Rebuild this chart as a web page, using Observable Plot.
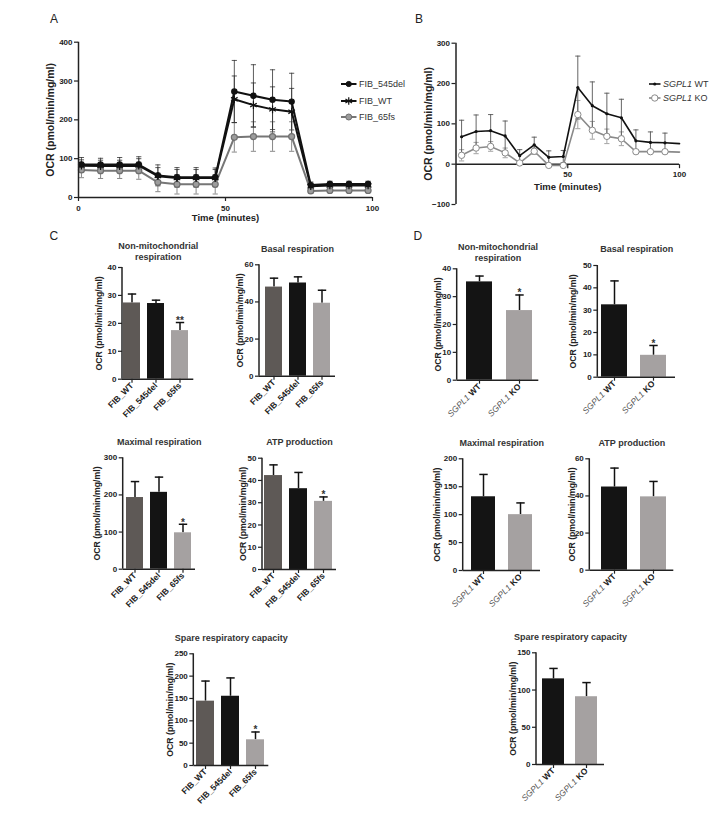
<!DOCTYPE html>
<html><head><meta charset="utf-8">
<script src="https://cdn.jsdelivr.net/npm/d3@7"></script>
<script src="https://cdn.jsdelivr.net/npm/@observablehq/plot@0.6"></script>
<style>
body{margin:0;background:#fff;}
#page{position:relative;width:717px;height:813px;overflow:hidden;font-family:"Liberation Sans",Arial,sans-serif;background:#fff;}
#page svg.layer{position:absolute;left:0;top:0;}
.letter{position:absolute;font-size:12px;line-height:12px;color:#222;}
.leg{position:absolute;display:flex;align-items:center;height:10px;font-size:9px;color:#333;white-space:nowrap;}
</style></head>
<body><div id="page"></div>
<script>
// ---------- DATA ----------
// Panel A (time course, fibroblasts)
const timeA = [1, 7.5, 14, 20.5, 27, 33.5, 40, 46.5, 53, 59.5, 66, 72.5, 79, 85.5, 92, 98.5];
const fib545del = [85, 85, 85, 85, 57, 52, 52, 52, 273, 262, 252, 247, 32, 35, 35, 35];
const fib545delErr = [18, 16, 18, 20, 27, 25, 25, 24, 80, 80, 77, 73, 8, 7, 7, 7];
const fibWT = [82, 81, 81, 82, 55, 50, 50, 50, 253, 238, 227, 221, 29, 31, 31, 31];
const fibWTErr = [15, 15, 15, 18, 22, 22, 22, 22, 60, 57, 58, 60, 8, 8, 8, 8];
const fib65fs = [71, 69, 69, 69, 39, 34, 34, 34, 155, 157, 157, 157, 17, 18, 18, 18];
const fib65fsErr = [20, 20, 20, 22, 24, 25, 25, 25, 38, 38, 38, 38, 5, 5, 5, 5];
const xTicksA = [0, 50, 100];
const yTicksA = [0, 100, 200, 300, 400];

// Panel B (time course, SGPL1)
const timeB = [2.5, 9, 15.5, 22, 28.5, 35, 41.5, 48, 54.5, 61, 67.5, 74, 80.5, 87, 93.5, 100];
const sgplWT = [68, 81, 83, 70, 21, 48, 17, 19, 190, 145, 125, 115, 58, 54, 53, 51];
const sgplWTErr = [41, 41, 40, 37, 15, 19, 16, 15, 78, 59, 51, 46, 27, 26, 24, null];
const sgplKO = [22, 40, 44, 28, 3, 32, -3, -3, 123, 84, 69, 63, 31, 31, 31, 30];
const sgplKOErr = [14, 14, 12, 12, 3, 8, 2, 2, 35, 22, 18, 17, 5, 5, 5, null];
const xTicksB = [50, 100];
const yTicksB = [-100, 0, 100, 200, 300];

// Panel C (fibroblast bar charts)
const catsC = ["FIB_WT", "FIB_545del", "FIB_65fs"];
const colorsC = ["#5e5956", "#141414", "#a5a1a1"];
const nonMitoC = [27.3, 27.1, 17.4], nonMitoCErr = [3.2, 1.2, 2.9], nonMitoCStars = ["", "", "**"];
const basalC = [48, 50.2, 39.3], basalCErr = [4.8, 3.3, 7], basalCStars = ["", "", ""];
const maximalC = [193, 207, 98], maximalCErr = [43, 41, 23], maximalCStars = ["", "", "*"];
const atpC = [42.2, 36.3, 30.6], atpCErr = [4.8, 7.3, 2], atpCStars = ["", "", "*"];
const spareC = [144, 155, 57.5], spareCErr = [45, 41, 17.5], spareCStars = ["", "", "*"];

// Panel D (SGPL1 bar charts)
const catsD = ["SGPL1 WT", "SGPL1 KO"];
const colorsD = ["#141414", "#a5a1a1"];
const nonMitoD = [35.3, 25], nonMitoDErr = [2.1, 5.6], nonMitoDStars = ["", "*"];
const basalD = [32.4, 9.8], basalDErr = [10.7, 4.4], basalDStars = ["", "*"];
const maximalD = [132, 100], maximalDErr = [40, 21], maximalDStars = ["", ""];
const atpD = [44.8, 39.5], atpDErr = [10.2, 8.3], atpDStars = ["", ""];
const spareD = [115, 91], spareDErr = [14, 19], spareDStars = ["", ""];

const yLabel = "OCR (pmol/min/mg/ml)";

// ---------- RENDERING ----------
const W = 717, H = 813;
const page = document.getElementById("page");
const FONT = '"Liberation Sans", Arial, sans-serif';
const INK = "#222";
const baseStyle = {fontFamily: FONT, fontWeight: "bold", fontSize: "8px", color: INK, background: "transparent", overflow: "visible"};

const capSymbol = {draw(ctx, size) { const r = Math.sqrt(size / Math.PI); ctx.moveTo(-r, 0); ctx.lineTo(r, 0); }};
const tickDown = {draw(ctx, size) { const r = Math.sqrt(size / Math.PI); ctx.moveTo(0, 0); ctx.lineTo(0, r); }};

function addLayer(svg) { svg.classList.add("layer"); page.appendChild(svg); return svg; }

// y-axis line drawn from the y scale
function yAxisLine(ymin, ymax) {
  return (index, scales, values, dimensions) =>
    d3.create("svg:line")
      .attr("x1", dimensions.marginLeft).attr("x2", dimensions.marginLeft)
      .attr("y1", scales.y(ymin)).attr("y2", scales.y(ymax))
      .attr("stroke", INK).attr("stroke-width", 1.5).node();
}
function yTitle(dx, fontSize) {
  return Plot.text([yLabel], {text: d => d, frameAnchor: "left", rotate: -90, textAnchor: "middle", lineAnchor: "middle", dx, fontSize});
}

// ----- Panel A -----
function rows(t, v, e) { return t.map((x, i) => ({t: x, v: v[i], e: e[i]})); }
const seriesA = [
  {rows: rows(timeA, fib65fs, fib65fsErr), line: "#767676", err: "#6a6a6a", symbol: "circle", r: 3, fill: "#9c9c9c", stroke: "#6f6f6f"},
  {rows: rows(timeA, fibWT, fibWTErr), line: "#111", err: "#333", symbol: "asterisk", r: 3.6, fill: "none", stroke: "#111"},
  {rows: rows(timeA, fib545del, fib545delErr), line: "#111", err: "#333", symbol: "circle", r: 2.6, fill: "#111", stroke: "#111"}
];
const marksA = [];
for (const s of seriesA) {
  marksA.push(
    Plot.ruleX(s.rows, {x: "t", y1: d => d.v - d.e, y2: d => d.v + d.e, stroke: s.err, strokeWidth: 0.8}),
    Plot.dot(s.rows, {x: "t", y: d => d.v + d.e, symbol: capSymbol, r: 2.6, stroke: s.err, strokeWidth: 0.8, fill: "none"}),
    Plot.dot(s.rows, {x: "t", y: d => d.v - d.e, symbol: capSymbol, r: 2.6, stroke: s.err, strokeWidth: 0.8, fill: "none"})
  );
}
for (const s of seriesA) {
  marksA.push(
    Plot.line(s.rows, {x: "t", y: "v", stroke: s.line, strokeWidth: 2}),
    Plot.dot(s.rows, {x: "t", y: "v", symbol: s.symbol, r: s.r, fill: s.fill, stroke: s.stroke, strokeWidth: 1.2})
  );
}
addLayer(Plot.plot({
  width: W, height: H,
  marginLeft: 78, marginRight: W - 372, marginTop: 41.7, marginBottom: H - 197,
  x: {domain: [0, 100], label: null},
  y: {domain: [0, 400], label: null},
  style: baseStyle,
  marks: [
    ...marksA,
    Plot.ruleY([0], {stroke: INK, strokeWidth: 1.5}),
    Plot.ruleX([0], {stroke: INK, strokeWidth: 1.5}),
    Plot.axisX(xTicksA, {tickSize: 4, tickPadding: 3.5, fontSize: 8, stroke: INK, strokeWidth: 1.2, label: null}),
    Plot.axisY(yTicksA, {tickSize: 4, tickPadding: 2, fontSize: 8, stroke: INK, strokeWidth: 1.2, label: null}),
    yTitle(-28, 10.5),
    Plot.text(["Time (minutes)"], {text: d => d, frameAnchor: "bottom", dy: 23.5, fontSize: 9.5})
  ]
}));

// ----- Panel B -----
const rowsWT = rows(timeB, sgplWT, sgplWTErr);
const rowsKO = rows(timeB, sgplKO, sgplKOErr);
function errMarks(r, color) {
  const f = d => d.e != null;
  return [
    Plot.ruleX(r, {filter: f, x: "t", y1: d => d.v - d.e, y2: d => d.v + d.e, stroke: color, strokeWidth: 0.9}),
    Plot.dot(r, {filter: f, x: "t", y: d => d.v + d.e, symbol: capSymbol, r: 2.6, stroke: color, strokeWidth: 0.9, fill: "none"}),
    Plot.dot(r, {filter: f, x: "t", y: d => d.v - d.e, symbol: capSymbol, r: 2.6, stroke: color, strokeWidth: 0.9, fill: "none"})
  ];
}
addLayer(Plot.plot({
  width: W, height: H,
  marginLeft: 455.5, marginRight: W - 679, marginTop: 42.7, marginBottom: H - 204,
  x: {domain: [0, 100], label: null, axis: null},
  y: {domain: [-100, 300], label: null},
  style: baseStyle,
  marks: [
    ...errMarks(rowsKO, "#999"),
    ...errMarks(rowsWT, "#555"),
    Plot.ruleY([0], {stroke: INK, strokeWidth: 1.5}),
    Plot.ruleX([0], {stroke: INK, strokeWidth: 1.5}),
    Plot.line(rowsKO, {x: "t", y: "v", stroke: "#8a8a8a", strokeWidth: 1.6}),
    Plot.line(rowsWT, {x: "t", y: "v", stroke: "#111", strokeWidth: 1.6}),
    Plot.dot(rowsKO, {filter: d => d.e != null, x: "t", y: "v", r: 3.2, fill: "white", stroke: "#8a8a8a", strokeWidth: 1}),
    Plot.dot(rowsWT, {filter: d => d.e != null, x: "t", y: "v", r: 1.6, fill: "#111"}),
    Plot.dot(xTicksB, {x: d => d, y: 0, symbol: tickDown, r: 4, stroke: INK, strokeWidth: 1.2, fill: "none"}),
    Plot.text(xTicksB, {x: d => d, y: 0, text: d => String(d), dy: 10.5, fontSize: 8}),
    Plot.axisY(yTicksB, {tickSize: 4, tickPadding: 2, fontSize: 8, stroke: INK, strokeWidth: 1.2, label: null}),
    yTitle(-27, 10.5),
    Plot.text(["Time (minutes)"], {text: d => d, frameAnchor: "bottom", dy: -15, fontSize: 9.5})
  ]
}));

// ----- Bar charts -----
function barChart(cfg) {
  const data = cfg.cats.map((c, i) => ({c, v: cfg.values[i], e: cfg.errs[i], s: cfg.stars[i]}));
  const svg = Plot.plot({
    width: W, height: H,
    marginLeft: cfg.axisX, marginRight: W - cfg.xEnd, marginTop: cfg.yTop, marginBottom: H - cfg.y0,
    x: {type: "band", domain: cfg.cats, range: cfg.range, paddingInner: cfg.pad, paddingOuter: 0, label: null},
    y: {domain: [0, cfg.yTicks[cfg.yTicks.length - 1]], label: null},
    color: {type: "ordinal", domain: cfg.cats, range: cfg.colors},
    style: baseStyle,
    marks: [
      Plot.ruleX(data, {x: "c", y1: "v", y2: d => d.v + d.e, stroke: "#111", strokeWidth: 1.5}),
      Plot.dot(data, {x: "c", y: d => d.v + d.e, symbol: capSymbol, r: 4.2, stroke: "#111", strokeWidth: 1.5, fill: "none"}),
      Plot.barY(data, {x: "c", y: "v", fill: "c"}),
      Plot.text(data, {x: "c", y: d => d.v + d.e, text: "s", lineAnchor: "bottom", dy: 1.5, fontSize: 10, fill: "#333"}),
      Plot.ruleY([0], {stroke: INK, strokeWidth: 1.5}),
      yAxisLine(0, cfg.yTicks[cfg.yTicks.length - 1]),
      Plot.axisY(cfg.yTicks, {tickSize: 4, tickPadding: 2, fontSize: 8, stroke: INK, strokeWidth: 1.2, label: null}),
      Plot.axisX({tickRotate: -45, tickSize: 4, tickPadding: 1, fontSize: 8.5, stroke: INK, strokeWidth: 1.2, label: null}),
      Plot.text([cfg.title], {text: d => d, frameAnchor: "top", dy: -16.5, lineAnchor: "middle", lineHeight: 1.2, fontSize: 9, fill: "#333"}),
      yTitle(cfg.labelDx, 8.7)
    ]
  });
  if (cfg.italicGene) {
    d3.select(svg).selectAll('g[aria-label="x-axis tick label"] text').each(function () {
      const parts = this.textContent.split(" ");
      const sel = d3.select(this);
      sel.text(null);
      sel.append("tspan").attr("font-style", "italic").attr("font-weight", "normal").attr("fill", "#555").text(parts[0]);
      sel.append("tspan").text(" " + parts.slice(1).join(" "));
    });
  }
  addLayer(svg);
}

const C = {cats: catsC, colors: colorsC, pad: 0.29};
const D = {cats: catsD, colors: colorsD, pad: 0.34, italicGene: true};
barChart({...C, title: "Non-mitochondrial\nrespiration", values: nonMitoC, errs: nonMitoCErr, stars: nonMitoCStars,
  yTicks: [0, 10, 20, 30, 40], axisX: 122, xEnd: 193.3, yTop: 267, y0: 378.7, range: [123.3, 188.7], labelDx: -23});
barChart({...C, title: "Basal respiration", values: basalC, errs: basalCErr, stars: basalCStars,
  yTicks: [0, 20, 40, 60], axisX: 259, xEnd: 335, yTop: 264.3, y0: 375.7, range: [264.3, 331], labelDx: -19});
barChart({...C, title: "Maximal respiration", values: maximalC, errs: maximalCErr, stars: maximalCStars,
  yTicks: [0, 100, 200, 300], axisX: 122.7, xEnd: 195, yTop: 457.3, y0: 568.7, range: [124.3, 192], labelDx: -26});
barChart({...C, title: "ATP production", values: atpC, errs: atpCErr, stars: atpCStars,
  yTicks: [0, 10, 20, 30, 40, 50], axisX: 262, xEnd: 336, yTop: 457.7, y0: 569, range: [264, 332.7], labelDx: -19});
barChart({...C, title: "Spare respiratory capacity", values: spareC, errs: spareCErr, stars: spareCStars,
  yTicks: [0, 50, 100, 150, 200, 250], axisX: 193.3, xEnd: 268.3, yTop: 653.3, y0: 765, range: [196, 264.3], labelDx: -23.5});
barChart({...D, title: "Non-mitochondrial\nrespiration", values: nonMitoD, errs: nonMitoDErr, stars: nonMitoDStars,
  yTicks: [0, 10, 20, 30, 40], axisX: 456.7, xEnd: 538.3, yTop: 268.3, y0: 379.7, range: [466, 532.7], labelDx: -19});
barChart({...D, title: "Basal respiration", values: basalD, errs: basalDErr, stars: basalDStars,
  yTicks: [0, 10, 20, 30, 40, 50], axisX: 597.3, xEnd: 675, yTop: 265, y0: 376.7, range: [600.7, 666.7], labelDx: -25});
barChart({...D, title: "Maximal respiration", values: maximalD, errs: maximalDErr, stars: maximalDStars,
  yTicks: [0, 50, 100, 150, 200], axisX: 462.7, xEnd: 540, yTop: 458.3, y0: 570, range: [470, 532.7], labelDx: -25.5});
barChart({...D, title: "ATP production", values: atpD, errs: atpDErr, stars: atpDStars,
  yTicks: [0, 20, 40, 60], axisX: 589.3, xEnd: 673.3, yTop: 458.3, y0: 569.7, range: [600, 666], labelDx: -17.5});
barChart({...D, title: "Spare respiratory capacity", values: spareD, errs: spareDErr, stars: spareDStars,
  yTicks: [0, 50, 100, 150], axisX: 536, xEnd: 604, yTop: 652.3, y0: 764, range: [541.7, 597.7], labelDx: -23});

// ----- Panel letters -----
const letters = [["A", 50, 13], ["B", 415, 12.5], ["C", 49.5, 230], ["D", 413.5, 230]];
for (const [t, x, y] of letters) {
  const d = document.createElement("div");
  d.className = "letter"; d.textContent = t;
  d.style.left = x + "px"; d.style.top = y + "px";
  page.appendChild(d);
}

// ----- Legends -----
function swatch(w, item) {
  const s = d3.create("svg").attr("width", w).attr("height", 10).style("overflow", "visible").style("margin-right", "3px");
  s.append("line").attr("x1", 0).attr("x2", w).attr("y1", 5).attr("y2", 5).attr("stroke", item.line).attr("stroke-width", item.lw);
  s.append("path").attr("transform", `translate(${w / 2},5)`)
    .attr("d", d3.symbol(item.sym, item.r * item.r * Math.PI)())
    .attr("fill", item.fill).attr("stroke", item.stroke).attr("stroke-width", item.sw);
  return s.node();
}
function legend(items, x, w) {
  for (const it of items) {
    const row = document.createElement("div");
    row.className = "leg";
    row.style.left = x + "px"; row.style.top = (it.y - 5) + "px";
    row.appendChild(swatch(w, it));
    const span = document.createElement("span");
    span.innerHTML = it.label;
    row.appendChild(span);
    page.appendChild(row);
  }
}
legend([
  {label: "FIB_545del", y: 84, line: "#111", lw: 2, sym: d3.symbolCircle, r: 2.6, fill: "#111", stroke: "#111", sw: 1},
  {label: "FIB_WT", y: 100.5, line: "#111", lw: 2, sym: d3.symbolAsterisk, r: 3.6, fill: "none", stroke: "#111", sw: 1.2},
  {label: "FIB_65fs", y: 117, line: "#767676", lw: 2, sym: d3.symbolCircle, r: 3, fill: "#9c9c9c", stroke: "#6f6f6f", sw: 1}
], 340.5, 15.5);
legend([
  {label: "<i>SGPL1</i> WT", y: 84.3, line: "#111", lw: 1.6, sym: d3.symbolCircle, r: 1.6, fill: "#111", stroke: "none", sw: 0},
  {label: "<i>SGPL1</i> KO", y: 98.3, line: "#8a8a8a", lw: 1.6, sym: d3.symbolCircle, r: 3.2, fill: "white", stroke: "#8a8a8a", sw: 1}
], 648.5, 11.5);
</script>
</body></html>
